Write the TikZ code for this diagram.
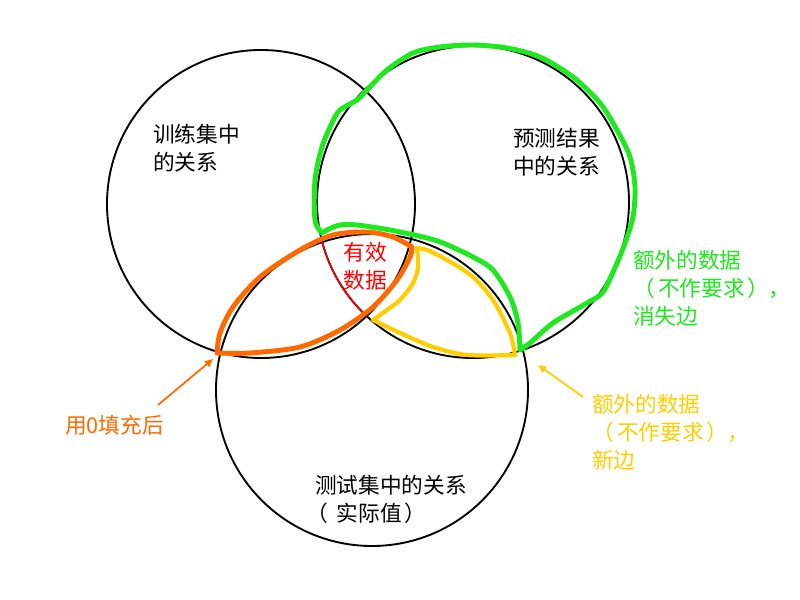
\documentclass[tikz,border=0pt]{standalone}
\usepackage{fontspec}
\newfontfamily\cjk{Noto Sans CJK SC}
\usetikzlibrary{arrows.meta}
\definecolor{cgreen}{RGB}{30,232,30}
\definecolor{corange}{RGB}{255,106,0}
\definecolor{cyellow}{RGB}{255,206,0}
\definecolor{cred}{RGB}{255,0,0}
\begin{document}
\begin{tikzpicture}[x=0.03cm,y=-0.03cm,
  ring/.style={draw=black,line width=1.6pt},
  blob/.style={line width=4.2pt,line join=round,line cap=round},
  lbl/.style={font=\fontsize{18.5pt}{24pt}\selectfont\cjk,inner sep=0pt,align=left,anchor=west},
  pointer/.style={line width=1.5pt,-{Triangle[length=7pt,width=6pt]}}]
\useasboundingbox (0,0) rectangle (800,600);
\fill[white] (0,0) rectangle (800,600);
% circles
\draw[ring] (261,204) circle[radius=154];
\draw[ring] (473,202) circle[radius=156];
\draw[ring] (372,390) circle[radius=156];
% red thin edge of the common region
\draw[cred,line width=1.3pt] (322.2,242.1) arc[start angle=165.11,end angle=133.0,radius=156];
% yellow
\draw[blob,cyellow,line width=3.6pt]
  plot[smooth,tension=0.5] coordinates {(417,248) (418,267) (413,283) (400,300) (387,310) (373,320)}
  -- plot[smooth,tension=0.5] coordinates {(373,320) (400,333) (433,347) (467,355) (515,355)}
  -- plot[smooth,tension=0.5] coordinates {(515,355) (510,333) (493,300) (473,277) (447,260) (427,250) (417,248)} -- cycle;
% orange
\draw[blob,corange]
  plot[smooth,tension=0.5] coordinates {(217,353) (250,353) (300,347) (340,330) (373,307) (397,280) (410,257) (412,247)}
  -- plot[smooth,tension=0.5] coordinates {(412,247) (393,237) (367,232) (333,235) (300,250) (260,277) (233,307) (220,333) (217,353)} -- cycle;
% green
\draw[blob,cgreen]
  plot[smooth,tension=0.5] coordinates {(322,233) (315,220) (315,180) (322,147) (332,123) (340,110) (357,100) (367,90) (387,70) (413,53) (440,47) (473,45) (507,48) (540,57) (573,77) (600,103) (617,130) (630,157) (635,187) (633,217) (625,243) (617,263) (603,292) (587,303) (553,323) (530,343) (520,350)}
  -- plot[smooth,tension=0.5] coordinates {(520,350) (518,323) (510,297) (493,270) (473,257) (443,243) (423,237) (390,230) (357,225) (340,225) (327,230) (322,233)} -- cycle;
% labels
\node[lbl] (train) at (153,148) {训练集中\\的关系};
\node[lbl] (pred) at (513,152) {预测结果\\中的关系};
\node[lbl,align=center,anchor=center,text=cred] (valid) at (365,266) {有效\\数据};
\node[lbl] (test) at (315,499) {测试集中的关系\\\makebox[1em][l]{\hspace{-0.4em}（}实际值\hspace{0.1em}）};
\node[lbl,text=cgreen] (gone) at (633,288) {额外的数据\\（\hspace{0.15em}不作要求\hspace{0.1em}），\\消失边};
\node[lbl,text=cyellow] (new) at (592,432) {额外的数据\\（\hspace{0.15em}不作要求\hspace{0.1em}），\\新边};
\node[lbl,text=corange] (fill) at (65,425) {用0填充后};
% arrows
\coordinate (ostart) at (158,405);
\coordinate (otip) at (213,359);
\coordinate (ystart) at (583,397);
\coordinate (ytip) at (538,365);
\draw[pointer,corange] (ostart) -- (otip);
\draw[pointer,cyellow] (ystart) -- (ytip);
\end{tikzpicture}
\end{document}
